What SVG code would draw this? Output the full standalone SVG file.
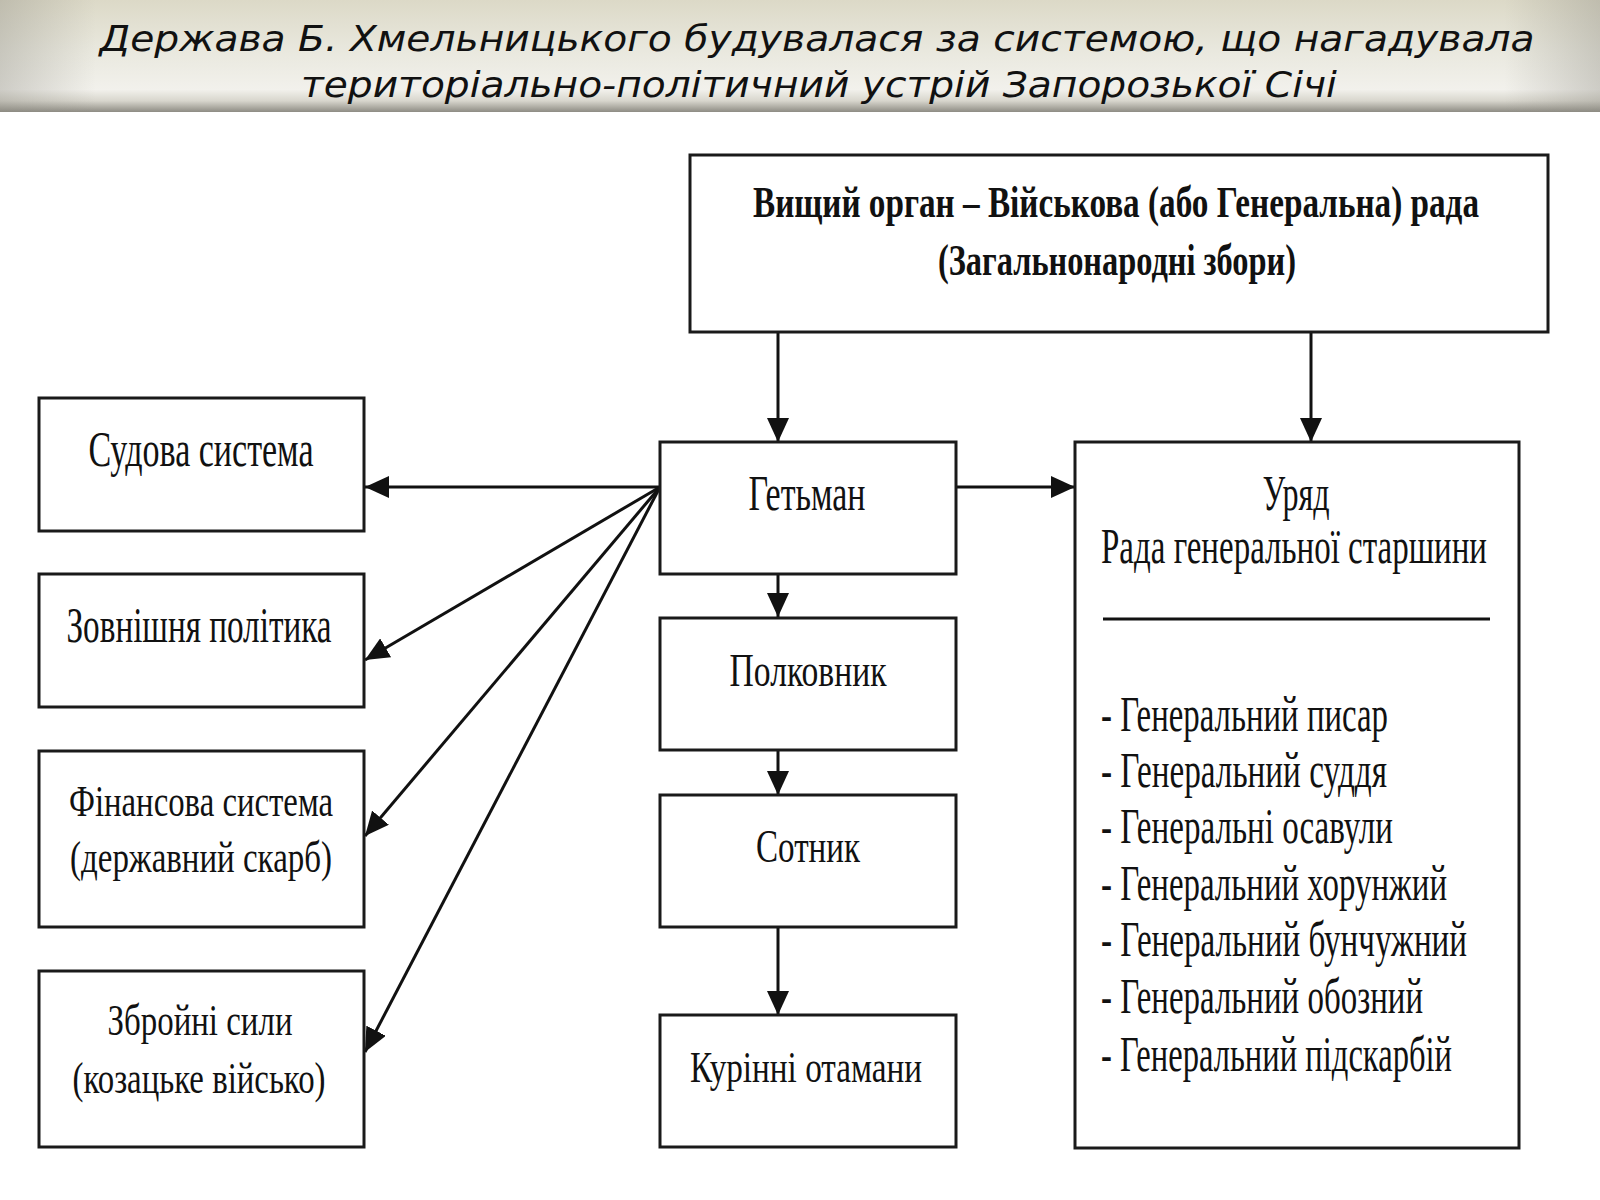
<svg xmlns="http://www.w3.org/2000/svg" width="1600" height="1200" viewBox="0 0 1600 1200">
<defs>
<linearGradient id="hdr" x1="0" y1="0" x2="0" y2="1">
<stop offset="0" stop-color="#dcd9c7"/>
<stop offset="0.45" stop-color="#e9e8de"/>
<stop offset="0.8" stop-color="#f2f1ec"/>
<stop offset="0.9" stop-color="#d8d6cd"/>
<stop offset="1" stop-color="#8e8c84"/>
</linearGradient>
<linearGradient id="vig" x1="0" y1="0" x2="1" y2="0">
<stop offset="0" stop-color="#8a887f" stop-opacity="0.35"/>
<stop offset="0.06" stop-color="#8a887f" stop-opacity="0"/>
<stop offset="0.94" stop-color="#8a887f" stop-opacity="0"/>
<stop offset="1" stop-color="#8a887f" stop-opacity="0.35"/>
</linearGradient>
<marker id="ah" viewBox="0 0 24 22" refX="24" refY="11" markerWidth="24" markerHeight="22" markerUnits="userSpaceOnUse" orient="auto">
<path d="M0,0 L24,11 L0,22 z" fill="#111"/>
</marker>
</defs>
<style>
.box{fill:#fff;stroke:#1a1a1a;stroke-width:3}
.t{font-family:"Liberation Serif","Times New Roman",serif;fill:#111;text-anchor:middle}
.tl{font-family:"Liberation Serif","Times New Roman",serif;fill:#111}
.b{font-weight:bold}
.hd{font-family:"DejaVu Sans",Verdana,sans-serif;font-style:italic;font-size:36px;fill:#111;text-anchor:middle}
.c{fill:none;stroke:#111;stroke-width:3}
</style>
<rect x="0" y="0" width="1600" height="1200" fill="#fff"/>
<g id="header">
<rect x="0" y="0" width="1600" height="112" fill="url(#hdr)"/>
<rect x="0" y="0" width="1600" height="112" fill="url(#vig)"/>
<text class="hd" x="817" y="51" textLength="1435" lengthAdjust="spacingAndGlyphs">Держава Б. Хмельницького будувалася за системою, що нагадувала</text>
<text class="hd" x="819" y="97" textLength="1036" lengthAdjust="spacingAndGlyphs">територіально-політичний устрій Запорозької Січі</text>
</g>
<g id="connectors">
<line class="c" x1="778" y1="332" x2="778" y2="442" marker-end="url(#ah)"/>
<line class="c" x1="1311" y1="332" x2="1311" y2="442" marker-end="url(#ah)"/>
<line class="c" x1="956" y1="487" x2="1075" y2="487" marker-end="url(#ah)"/>
<line class="c" x1="778" y1="574" x2="778" y2="617" marker-end="url(#ah)"/>
<line class="c" x1="778" y1="750" x2="778" y2="795" marker-end="url(#ah)"/>
<line class="c" x1="778" y1="927" x2="778" y2="1015" marker-end="url(#ah)"/>
<line class="c" x1="660" y1="487" x2="365" y2="487" marker-end="url(#ah)"/>
<line class="c" x1="660" y1="487" x2="365" y2="660" marker-end="url(#ah)"/>
<line class="c" x1="660" y1="487" x2="365" y2="836" marker-end="url(#ah)"/>
<line class="c" x1="660" y1="487" x2="365" y2="1052" marker-end="url(#ah)"/>
</g>
<g id="node-rada">
<rect class="box" x="690" y="155" width="858" height="177"/>
<text class="t b" x="1116" y="217" font-size="44" textLength="726" lengthAdjust="spacingAndGlyphs">Вищий орган – Військова (або Генеральна) рада</text>
<text class="t b" x="1117" y="275" font-size="44" textLength="358" lengthAdjust="spacingAndGlyphs">(Загальнонародні збори)</text>
</g>
<g id="node-hetman">
<rect class="box" x="660" y="442" width="296" height="132"/>
<text class="t" x="807" y="510" font-size="50" textLength="117" lengthAdjust="spacingAndGlyphs">Гетьман</text>
</g>
<g id="node-polkovnyk">
<rect class="box" x="660" y="618" width="296" height="132"/>
<text class="t" x="808" y="686" font-size="46" textLength="157" lengthAdjust="spacingAndGlyphs">Полковник</text>
</g>
<g id="node-sotnyk">
<rect class="box" x="660" y="795" width="296" height="132"/>
<text class="t" x="808" y="862" font-size="46" textLength="104" lengthAdjust="spacingAndGlyphs">Сотник</text>
</g>
<g id="node-kurinni">
<rect class="box" x="660" y="1015" width="296" height="132"/>
<text class="t" x="806" y="1082" font-size="44" textLength="232" lengthAdjust="spacingAndGlyphs">Курінні отамани</text>
</g>
<g id="node-sudova">
<rect class="box" x="39" y="398" width="325" height="133"/>
<text class="t" x="201" y="466" font-size="50" textLength="225" lengthAdjust="spacingAndGlyphs">Судова система</text>
</g>
<g id="node-zovnishnia">
<rect class="box" x="39" y="574" width="325" height="133"/>
<text class="t" x="199" y="642" font-size="50" textLength="265" lengthAdjust="spacingAndGlyphs">Зовнішня політика</text>
</g>
<g id="node-finansova">
<rect class="box" x="39" y="751" width="325" height="176"/>
<text class="t" x="201" y="816" font-size="45" textLength="264" lengthAdjust="spacingAndGlyphs">Фінансова система</text>
<text class="t" x="201" y="872" font-size="45" textLength="262" lengthAdjust="spacingAndGlyphs">(державний скарб)</text>
</g>
<g id="node-zbroini">
<rect class="box" x="39" y="971" width="325" height="176"/>
<text class="t" x="200" y="1035" font-size="45" textLength="185" lengthAdjust="spacingAndGlyphs">Збройні сили</text>
<text class="t" x="199" y="1093" font-size="45" textLength="253" lengthAdjust="spacingAndGlyphs">(козацьке військо)</text>
</g>
<g id="node-uriad">
<rect class="box" x="1075" y="442" width="444" height="706"/>
<text class="t" x="1296" y="510" font-size="50" textLength="67" lengthAdjust="spacingAndGlyphs">Уряд</text>
<text class="t" x="1294" y="563" font-size="50" textLength="386" lengthAdjust="spacingAndGlyphs">Рада генеральної старшини</text>
<line x1="1103" y1="619" x2="1490" y2="619" stroke="#111" stroke-width="3"/>
<text class="tl" x="1101" y="731" font-size="50" textLength="287" lengthAdjust="spacingAndGlyphs">- Генеральний писар</text>
<text class="tl" x="1101" y="787" font-size="50" textLength="286" lengthAdjust="spacingAndGlyphs">- Генеральний суддя</text>
<text class="tl" x="1101" y="843" font-size="50" textLength="292" lengthAdjust="spacingAndGlyphs">- Генеральні осавули</text>
<text class="tl" x="1101" y="900" font-size="50" textLength="346" lengthAdjust="spacingAndGlyphs">- Генеральний хорунжий</text>
<text class="tl" x="1101" y="956" font-size="50" textLength="366" lengthAdjust="spacingAndGlyphs">- Генеральний бунчужний</text>
<text class="tl" x="1101" y="1013" font-size="50" textLength="322" lengthAdjust="spacingAndGlyphs">- Генеральний обозний</text>
<text class="tl" x="1101" y="1071" font-size="50" textLength="351" lengthAdjust="spacingAndGlyphs">- Генеральний підскарбій</text>
</g>
</svg>
